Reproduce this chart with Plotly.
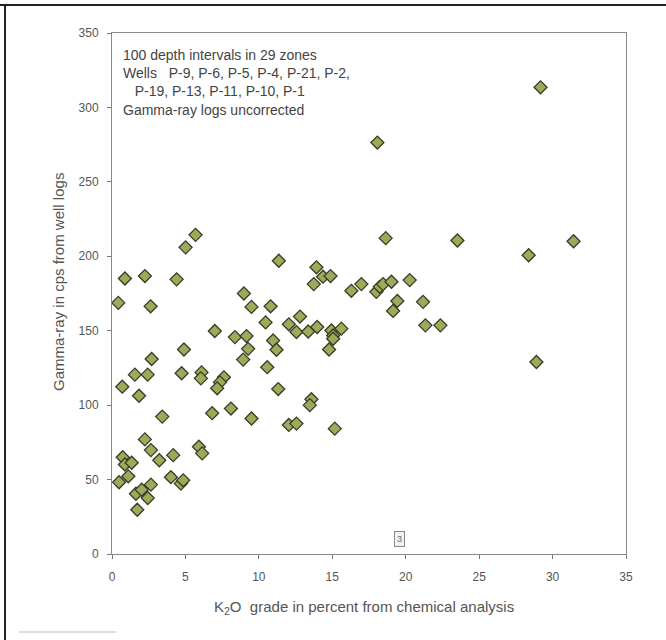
import plotly.graph_objects as go

# K2O grade (%) from chemical analysis
k2o = [5.69, 5.01, 11.36, 0.88, 2.24, 4.40, 0.43, 2.63, 8.98, 9.5,
       10.8, 10.46, 12.04, 12.56, 7.0, 8.37, 9.16, 12.8, 9.27, 8.93,
       10.97, 11.2, 10.57, 11.32, 4.9, 2.7, 1.56, 2.43, 0.70, 1.84,
       4.74, 6.1, 6.05, 7.62, 7.35, 7.16, 3.42, 6.82, 8.1, 9.5,
       12.04, 12.56, 2.24, 2.65, 3.22, 4.17, 5.92, 6.14, 0.73, 0.88,
       1.34, 1.11, 0.48, 4.01, 4.69, 4.85, 2.65, 1.63, 2.02, 2.43,
       1.72, 18.07, 18.64, 23.52, 13.92, 14.37, 14.88, 13.74, 16.3, 16.98,
       18.0, 18.23, 18.46, 19.03, 20.27, 19.43, 19.14, 21.18, 21.34, 22.36,
       13.36, 13.97, 14.94, 15.62, 15.06, 15.06, 14.78, 13.58, 13.47, 15.17,
       29.18, 31.43, 28.37, 28.9]
# Gamma-ray (cps) from well logs
gamma = [214.4, 206, 197, 185.1, 186.7, 184.5, 168.7, 166.4, 175, 166,
         166.4, 155.6, 154.3, 149.1, 149.8, 145.7, 146.4, 159.5, 137.8, 130.6,
         143.4, 137.2, 125.5, 110.8, 137.4, 131, 120.5, 120.5, 112.4, 106.3,
         121.4, 122, 118, 118.7, 115.3, 111.3, 92.3, 94.6, 97.7, 91,
         86.7, 87.6, 77, 69.8, 63, 66.4, 72.1, 67.6, 65, 60.1,
         61.3, 52.2, 48.2, 51.6, 47.3, 49.5, 46.6, 40.5, 43.2, 37.6,
         29.7, 276.4, 212.2, 210.6, 192.6, 186.3, 186.7, 181.3, 176.8, 181.3,
         176.1, 179.5, 181.3, 182.9, 184, 170, 163.3, 169.4, 153.6, 153.6,
         149.5, 152.5, 150.2, 151.4, 146.8, 144.6, 137.4, 104, 100, 84.2,
         313.5, 210.1, 200.7, 129]

x_ticks = [0, 5, 10, 15, 20, 25, 30, 35]
y_ticks = [0, 50, 100, 150, 200, 250, 300, 350]

note_lines = ["100 depth intervals in 29 zones",
              "Wells   P-9, P-6, P-5, P-4, P-21, P-2,",
              "   P-19, P-13, P-11, P-10, P-1",
              "Gamma-ray logs uncorrected"]

FONT = "Liberation Sans, Arial"
W, H = 666, 640
L, R, T, B = 112, 40, 33, 86
PW, PH = W - L - R, H - T - B


def px(xp):
    return (xp - L) / PW


def py(yp):
    return (H - B - yp) / PH


fig = go.Figure()
fig.add_trace(go.Scatter(
    x=k2o, y=gamma, mode="markers",
    marker=dict(symbol="diamond", size=10, color="#9daa58",
                line=dict(color="#3a3a2a", width=1.3)),
    showlegend=False, hoverinfo="x+y"))

axis_common = dict(showgrid=False, zeroline=False, showline=True,
                   linecolor="#8a8a8a", linewidth=1, mirror=True,
                   ticks="outside", ticklen=4, tickcolor="#777",
                   tickfont=dict(family=FONT, size=12, color="#555"))

fig.update_layout(
    width=W, height=H,
    margin=dict(l=L, r=R, t=T, b=B),
    paper_bgcolor="white", plot_bgcolor="white",
    xaxis=dict(range=[0, 35], tickvals=x_ticks, ticklabelstandoff=8, **axis_common),
    yaxis=dict(range=[0, 350], tickvals=y_ticks, ticklabelstandoff=6, **axis_common),
    annotations=[
        dict(text="<br>".join(note_lines), xref="paper", yref="paper",
             x=px(121), y=py(45), xanchor="left", yanchor="top", align="left",
             showarrow=False,
             font=dict(family=FONT, size=14, color="#444")),
        dict(text="K<sub>2</sub>O  grade in percent from chemical analysis",
             xref="paper", yref="paper", x=px(364), y=py(607),
             xanchor="center", yanchor="middle", showarrow=False,
             font=dict(family=FONT, size=15, color="#555")),
        dict(text="Gamma-ray in cps from well logs",
             xref="paper", yref="paper", x=px(58), y=py(282), textangle=-90,
             xanchor="center", yanchor="middle", showarrow=False,
             font=dict(family=FONT, size=15, color="#555")),
        dict(text="3", xref="x", yref="y", x=19.6, y=10.4, showarrow=False,
             font=dict(family=FONT, size=9, color="#666"),
             bordercolor="#888", borderwidth=1, borderpad=2, bgcolor="#f2f2ea"),
    ],
    shapes=[
        dict(type="line", xref="paper", yref="paper",
             x0=px(0), x1=px(666), y0=py(5), y1=py(5),
             line=dict(color="#222", width=2)),
        dict(type="line", xref="paper", yref="paper",
             x0=px(5), x1=px(5), y0=py(5), y1=py(640),
             line=dict(color="#222", width=2)),
        dict(type="line", xref="paper", yref="paper",
             x0=px(19), x1=px(116), y0=py(632), y1=py(632),
             line=dict(color="#bbb", width=1)),
    ],
)

fig.write_html("out.html", config={"displayModeBar": False},
               post_script="document.body.style.margin='0';")
